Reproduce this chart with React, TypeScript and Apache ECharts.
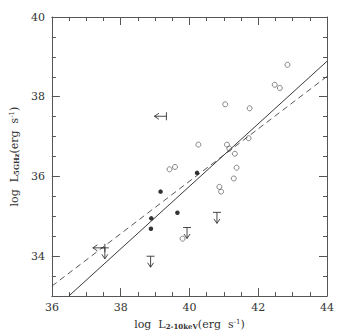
import React, { useEffect, useRef } from "react";
import * as echarts from "echarts";

// ---- data ----
const openX = [42.85, 42.48, 42.63, 41.04, 41.75, 40.26, 41.09, 41.72, 41.16, 41.32, 41.37, 41.29, 40.87, 40.92, 39.42, 39.58, 39.80];
const openY = [38.80, 38.30, 38.22, 37.81, 37.71, 36.80, 36.80, 36.96, 36.70, 36.57, 36.22, 35.95, 35.74, 35.62, 36.18, 36.24, 34.44];

const filledX = [39.16, 38.89, 38.88, 39.65, 40.22];
const filledY = [35.62, 34.95, 34.69, 35.09, 36.09];

// upper limits in radio (down arrows)
const upperX = [38.87, 40.80, 39.93];
const upperY = [34.00, 35.10, 34.72];

// upper limits in X-ray (left arrows)
const leftX = [39.33];
const leftY = [37.51];

// upper limits in both
const bothX = [37.54];
const bothY = [34.21];

// fitted relations (endpoints)
const solidLineX = [36.49, 44];
const solidLineY = [33.0, 38.89];
const dashedLineX = [36, 44];
const dashedLineY = [33.25, 38.51];

const xTicks = [36, 38, 40, 42, 44];
const yTicks = [34, 36, 38, 40];

const FONT = "DejaVu Serif";
const INK = "#333";
const AXIS = "#555";

const zip = (a: number[], b: number[]) => a.map((v, i) => [v, b[i]]);

function arrowItem(kind: string) {
  return (params: any, api: any) => {
    const p = api.coord([api.value(0), api.value(1)]);
    const x = p[0];
    const y = p[1];
    const style = { stroke: INK, lineWidth: 0.9, fill: "none" };
    const children: any[] = [];
    if (kind === "down" || kind === "both") {
      children.push({ type: "line", shape: { x1: x - 4, y1: y, x2: x + 4, y2: y }, style });
      children.push({ type: "line", shape: { x1: x, y1: y, x2: x, y2: y + 11 }, style });
      children.push({ type: "polyline", shape: { points: [[x - 3, y + 6.5], [x, y + 11], [x + 3, y + 6.5]] }, style });
    }
    if (kind === "left" || kind === "both") {
      children.push({ type: "line", shape: { x1: x, y1: y - 4, x2: x, y2: y + 4 }, style });
      children.push({ type: "line", shape: { x1: x, y1: y, x2: x - 12, y2: y }, style });
      children.push({ type: "polyline", shape: { points: [[x - 7.5, y - 3], [x - 12, y], [x - 7.5, y + 3]] }, style });
    }
    return { type: "group", children };
  };
}

const nameRich = {
  a: { fontFamily: FONT, fontSize: 11, color: INK },
  b: { fontFamily: FONT, fontSize: 7, fontWeight: "bold", color: INK, padding: [5, 0, 0, 0] },
  c: { fontFamily: FONT, fontSize: 7, color: INK, padding: [0, 0, 5, 0] },
};

export default function App() {
  const ref = useRef<HTMLDivElement>(null);
  useEffect(() => {
    if (!ref.current) return;
    const chart = echarts.init(ref.current, null, { renderer: "svg" });
    const lineStyle = { color: AXIS, width: 1 };
    const baseX = {
      type: "value",
      min: 36,
      max: 44,
      interval: 2,
      splitLine: { show: false },
      axisLine: { show: true, lineStyle },
      axisTick: { show: true, inside: true, length: 8, lineStyle },
      minorTick: { show: true, inside: true, splitNumber: 4, length: 4, lineStyle },
    };
    const baseY = {
      type: "value",
      min: 33,
      max: 40,
      interval: 0.5,
      splitLine: { show: false },
      axisLine: { show: true, lineStyle },
      axisTick: { show: true, inside: true, length: 4, lineStyle },
    };
    const majorY = {
      type: "value",
      min: 33,
      max: 40,
      splitLine: { show: false },
      axisLine: { show: false },
      axisLabel: { show: false },
      axisTick: { show: true, inside: true, length: 8, lineStyle, customValues: yTicks },
    };
    chart.setOption({
      animation: false,
      grid: { left: 47, right: 30, top: 17, bottom: 37, containLabel: false },
      xAxis: [
        {
          ...baseX,
          position: "bottom",
          axisLabel: { show: true, margin: 6, fontFamily: FONT, fontSize: 11, color: INK, customValues: xTicks },
          name: "{a|log  L}{b|2-10keV}{a|(erg  s}{c|-1}{a|)}",
          nameLocation: "middle",
          nameGap: 20,
          nameTextStyle: { rich: nameRich },
        },
        { ...baseX, position: "top", axisLabel: { show: false } },
      ],
      yAxis: [
        {
          ...baseY,
          position: "left",
          axisLabel: {
            show: true,
            margin: 7,
            fontFamily: FONT,
            fontSize: 11,
            color: INK,
            formatter: (v: number) => (yTicks.indexOf(v) >= 0 ? String(v) : ""),
          },
          name: "{a|log  L}{b|5GHz}{a|(erg  s}{c|-1}{a|)}",
          nameLocation: "middle",
          nameRotate: 90,
          nameGap: 21,
          nameTextStyle: { rich: nameRich },
        },
        { ...baseY, position: "right", axisLabel: { show: false } },
        { ...majorY, position: "left" },
        { ...majorY, position: "right" },
      ],
      series: [
        {
          type: "line",
          data: zip(solidLineX, solidLineY),
          showSymbol: false,
          silent: true,
          lineStyle: { color: "#222", width: 0.9 },
          z: 2,
        },
        {
          type: "line",
          data: zip(dashedLineX, dashedLineY),
          showSymbol: false,
          silent: true,
          lineStyle: { color: "#444", width: 0.9, type: [6, 4] },
          z: 2,
        },
        {
          type: "scatter",
          data: zip(openX, openY),
          symbol: "circle",
          symbolSize: 5,
          itemStyle: { color: "rgba(255,255,255,0)", borderColor: "#444", borderWidth: 0.8 },
          z: 3,
        },
        {
          type: "scatter",
          data: zip(filledX, filledY),
          symbol: "circle",
          symbolSize: 4.5,
          itemStyle: { color: "#000" },
          z: 3,
        },
        { type: "custom", data: zip(upperX, upperY), renderItem: arrowItem("down"), encode: { x: 0, y: 1 }, z: 3 },
        { type: "custom", data: zip(leftX, leftY), renderItem: arrowItem("left"), encode: { x: 0, y: 1 }, z: 3 },
        { type: "custom", data: zip(bothX, bothY), renderItem: arrowItem("both"), encode: { x: 0, y: 1 }, z: 3 },
      ],
    });
    return () => chart.dispose();
  }, []);
  return (
    <div
      ref={ref}
      style={{ position: "fixed", left: 0, top: 0, width: 357, height: 335, background: "#fff" }}
    />
  );
}
